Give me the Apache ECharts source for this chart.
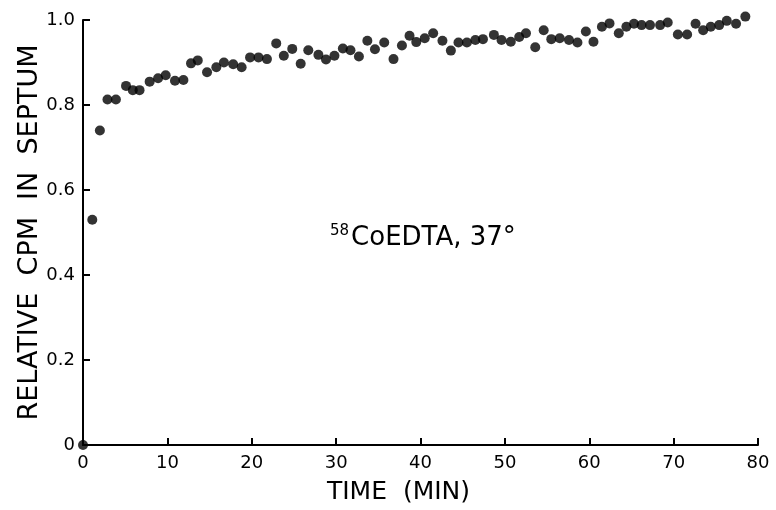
<!DOCTYPE html>
<html>
<head>
<meta charset="utf-8">
<script src="https://cdn.jsdelivr.net/npm/echarts@6/dist/echarts.min.js"></script>
<style>
  html, body { margin: 0; padding: 0; background: #fff; }
  #chart { width: 776px; height: 510px; }
</style>
</head>
<body>
<div id="chart"></div>
<script>
// time (min)
const times = [0, 1.1, 2.0, 2.9, 3.9, 5.1, 5.9, 6.7, 7.9, 8.9, 9.8, 10.9, 11.9, 12.8, 13.6,
  14.7, 15.8, 16.7, 17.8, 18.8, 19.8, 20.8, 21.8, 22.9, 23.8, 24.8, 25.8, 26.7, 27.9, 28.8,
  29.8, 30.8, 31.7, 32.7, 33.7, 34.6, 35.7, 36.8, 37.8, 38.7, 39.5, 40.5, 41.5, 42.6, 43.6,
  44.5, 45.5, 46.5, 47.4, 48.7, 49.6, 50.7, 51.7, 52.5, 53.6, 54.6, 55.5, 56.5, 57.6, 58.6,
  59.6, 60.5, 61.5, 62.4, 63.5, 64.4, 65.3, 66.2, 67.2, 68.4, 69.3, 70.5, 71.6, 72.6, 73.5,
  74.4, 75.4, 76.3, 77.4, 78.5]
// relative cpm in septum
const relCpm = [0, 0.53, 0.74, 0.813, 0.813, 0.845, 0.835, 0.835, 0.855, 0.863, 0.87, 0.857, 0.859, 0.898, 0.905,
  0.877, 0.889, 0.9, 0.896, 0.889, 0.912, 0.912, 0.908, 0.945, 0.916, 0.932, 0.897, 0.929, 0.918, 0.907,
  0.916, 0.933, 0.929, 0.914, 0.951, 0.931, 0.947, 0.908, 0.94, 0.963, 0.948, 0.957, 0.969, 0.951, 0.928,
  0.947, 0.947, 0.953, 0.955, 0.965, 0.953, 0.949, 0.96, 0.969, 0.936, 0.976, 0.955, 0.957, 0.953, 0.947,
  0.973, 0.949, 0.984, 0.992, 0.969, 0.984, 0.991, 0.988, 0.988, 0.988, 0.994, 0.966, 0.966, 0.991, 0.976,
  0.984, 0.988, 0.998, 0.991, 1.008]
const xTicks = [0, 10, 20, 30, 40, 50, 60, 70, 80]
const yTicks = ['0', '0.2', '0.4', '0.6', '0.8', '1.0']

const ink = '#000'
const font = 'DejaVu Sans'

const chart = echarts.init(document.getElementById('chart'))
chart.setOption({
  animation: false,
  grid: { left: 83, right: 18, top: 20, bottom: 65, containLabel: false, outerBoundsMode: 'none' },
  xAxis: {
    type: 'value',
    min: 0,
    max: 80,
    interval: 10,
    name: 'TIME  (MIN)',
    nameLocation: 'middle',
    nameGap: 35,
    nameTextStyle: { color: ink, fontFamily: font, fontSize: 25, padding: [0, 44, 0, 0] },
    axisLine: { lineStyle: { color: ink, width: 2 } },
    axisTick: { inside: true, length: 7, lineStyle: { color: ink, width: 2 } },
    axisLabel: {
      color: ink, fontFamily: font, fontSize: 18, margin: 9,
      formatter: v => xTicks.includes(v) ? String(v) : ''
    },
    splitLine: { show: false }
  },
  yAxis: {
    type: 'value',
    min: 0,
    max: 1,
    interval: 0.2,
    name: 'RELATIVE  CPM  IN  SEPTUM',
    nameLocation: 'middle',
    nameGap: 40,
    nameMoveOverlap: false,
    nameTextStyle: { color: ink, fontFamily: font, fontSize: 27 },
    axisLine: { lineStyle: { color: ink, width: 2 } },
    axisTick: { inside: true, length: 7, lineStyle: { color: ink, width: 2 } },
    axisLabel: {
      color: ink, fontFamily: font, fontSize: 18, margin: 8,
      formatter: v => yTicks[Math.round(v / 0.2)]
    },
    splitLine: { show: false }
  },
  graphic: [{
    type: 'text',
    left: 330,
    top: 224,
    style: {
      text: '{sup|58}CoEDTA, 37°',
      fill: ink,
      font: '26px "DejaVu Sans"',
      rich: {
        sup: { fontSize: 15, fontFamily: font, fill: ink, verticalAlign: 'top', padding: [0, 2, 14, 0] }
      }
    }
  }],
  series: [{
    type: 'scatter',
    clip: false,
    symbolSize: 10,
    itemStyle: { color: ink },
    data: times.map((t, i) => [t, relCpm[i]])
  }]
})
</script>
</body>
</html>
